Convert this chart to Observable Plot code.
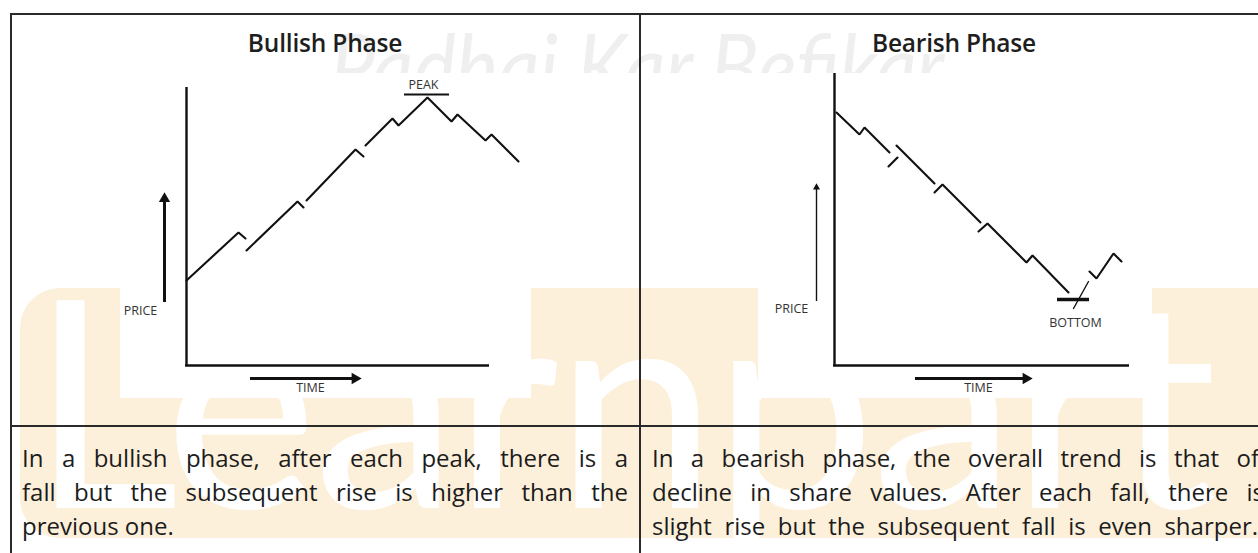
<!DOCTYPE html>
<html><head><meta charset="utf-8">
<script src="https://cdn.jsdelivr.net/npm/d3@7"></script>
<script src="https://cdn.jsdelivr.net/npm/@observablehq/plot@0.6"></script>
<style>
body{margin:0;width:1258px;height:553px;overflow:hidden;position:relative;background:#fff;font-family:"Open Sans",Lato,sans-serif;}
.abs{position:absolute}
.line{position:absolute;height:34px;line-height:34px;font-size:24px;font-weight:400;color:#1c1c1c;text-align:justify;text-align-last:justify;white-space:nowrap;font-family:"Open Sans",sans-serif}
.line.last{text-align-last:left}
.title{position:absolute;top:30px;width:400px;text-align:center;font-size:24.5px;line-height:25px;font-weight:600;color:#1e1e1e;font-family:"Open Sans",Lato,sans-serif;letter-spacing:-0.2px}
</style></head><body>
<div id="wm" class="abs" style="left:0;top:0;width:1258px;height:73px;overflow:hidden"></div>
<div class="abs" style="left:20px;top:288px;width:1300px;height:250px;background:#fdf0da;border-radius:40px"></div>
<div class="abs" style="left:30px;top:262px;width:1228px;height:276px;overflow:hidden"><div style="font:400 290px Lato,sans-serif;color:#fff;letter-spacing:-4px;line-height:276px;white-space:nowrap;margin-top:-4px">Learnpart</div></div>
<div class="abs" style="left:120px;top:73px;width:411px;height:325px;background:#fff"></div>
<div class="abs" style="left:758px;top:73px;width:394px;height:325px;background:#fff"></div>
<div class="abs" style="left:10px;top:13px;width:1248px;height:2px;background:#2a2a2a"></div>
<div class="abs" style="left:10px;top:13px;width:2px;height:540px;background:#2a2a2a"></div>
<div class="abs" style="left:639px;top:13px;width:2px;height:540px;background:#2a2a2a"></div>
<div class="abs" style="left:10px;top:425px;width:1248px;height:2px;background:#2a2a2a"></div>
<div class="title" style="left:125px">Bullish Phase</div>
<div class="title" style="left:754px">Bearish Phase</div>
<div id="bull" class="abs" style="left:110px;top:60px"></div>
<div id="bear" class="abs" style="left:740px;top:60px"></div>
<div class="line" style="left:22px;top:441px;width:606px">In a bullish phase, after each peak, there is a</div>
<div class="line" style="left:22px;top:475px;width:606px">fall but the subsequent rise is higher than the</div>
<div class="line last" style="left:22px;top:509px;width:606px">previous one.</div>
<div class="line" style="left:652px;top:441px;width:607px">In a bearish phase, the overall trend is that of</div>
<div class="line" style="left:652px;top:475px;width:612px">decline in share values. After each fall, there is</div>
<div class="line" style="left:652px;top:509px;width:606px">slight rise but the subsequent fall is even sharper.</div>
<script>
// ---- Bullish phase (time, price in drawing units; origin at the axes corner)
const bullTime  = [0, 52, 59,  60, 111, 117,  120, 169, 177,  179, 206, 212, 241, 265, 271, 299, 305, 332];
const bullPrice = [85, 133, 127,  115, 164, 158,  165, 216, 209,  220, 247, 240, 268, 244, 251, 225, 231, 204];
const bullLeg   = [1, 1, 1,  2, 2, 2,  3, 3, 3,  4, 4, 4, 4, 4, 4, 4, 4, 4];
const bullAxisTime  = [0, 303];
const bullAxisPrice = [0, 278];
const bullPriceArrow = [-22, 63, 173];   // time, from price, to price
const bullTimeArrow  = [-13, 64, 175];   // price, from time, to time
const bullPeakBar    = [271, 218, 263];  // price, from time, to time
const bullLabels = ["PRICE", "TIME", "PEAK"];
const bullLabelTime  = [-46, 124, 237];
const bullLabelPrice = [55, -22, 281];

// ---- Bearish phase
const bearTime  = [2, 25, 30, 55,  54, 63,  62, 100,  100, 108, 146,  144, 153, 192, 198, 234,  239, 254,  255, 262, 279, 287];
const bearPrice = [253, 231, 238, 213,  199, 208,  220, 182,  173, 181, 143,  134, 142, 103, 110, 73,  57, 84,  94, 87, 112, 104];
const bearLeg   = [1, 1, 1, 1,  2, 2,  3, 3,  4, 4, 4,  5, 5, 5, 5, 5,  6, 6,  7, 7, 7, 7];
const bearAxisTime  = [0, 295];
const bearAxisPrice = [0, 292];
const bearPriceArrow = [-18, 64, 182];
const bearTimeArrow  = [-13, 81, 198];
const bearBottomBar  = [66, 223, 255];
const bearLabels = ["PRICE", "TIME", "BOTTOM"];
const bearLabelTime  = [-43, 144, 241];
const bearLabelPrice = [57, -22, 43];

const watermarkText = "Padhai Kar Befikar";

function rows(t, p, g) { return t.map((d, i) => ({time: d, price: p[i], leg: g[i]})); }
function labels(l, t, p) { return l.map((d, i) => ({label: d, time: t[i], price: p[i]})); }

function phaseChart(o) {
  const data = rows(o.time, o.price, o.leg);
  const ink = "#111";
  const thin = data.filter(d => o.thinLeg != null && d.leg === o.thinLeg);
  const thick = data.filter(d => !(o.thinLeg != null && d.leg === o.thinLeg));
  const [pa, pa0, pa1] = o.priceArrow;
  const [ta, ta0, ta1] = o.timeArrow;
  const marks = [
    Plot.ruleX([0], {x: d => d, y1: -1, y2: o.axisPrice[1], stroke: ink, strokeWidth: 2.4}),
    Plot.ruleY([0], {y: d => d, x1: -1, x2: o.axisTime[1], stroke: ink, strokeWidth: 2.4}),
    Plot.line(thick, {x: "time", y: "price", z: "leg", stroke: ink, strokeWidth: 2.1, strokeLinejoin: "miter"}),
    Plot.ruleX([pa], {x: d => d, y1: pa0, y2: pa1 - o.upHead * 1.5, stroke: ink, strokeWidth: o.upWidth}),
    Plot.dot([pa], {x: d => d, y: pa1 - o.upHead * 1.5, r: o.upHead, symbol: "triangle", fill: ink, stroke: "none"}),
    Plot.ruleY([ta], {y: d => d, x1: ta0, x2: ta1 - 6, stroke: ink, strokeWidth: 3}),
    Plot.dot([ta], {y: d => d, x: ta1 - 6.5, r: 4.3, symbol: "triangle", rotate: 90, fill: ink, stroke: "none"}),
    Plot.ruleY([o.bar[0]], {y: d => d, x1: o.bar[1], x2: o.bar[2], stroke: ink, strokeWidth: o.barWidth}),
    Plot.text(labels(o.labels, o.labelTime, o.labelPrice), {x: "time", y: "price", text: "label", fontSize: 12.5, fill: "#333", fontFamily: "Open Sans"})
  ];
  if (thin.length) marks.push(Plot.line(thin, {x: "time", y: "price", z: "leg", stroke: ink, strokeWidth: 1.4}));
  return Plot.plot({
    width: o.width, height: 345, margin: 0,
    x: {domain: o.xDomain, range: [0, o.width], axis: null},
    y: {domain: [-40, 305], range: [345, 0], axis: null},
    style: {background: "transparent", overflow: "visible"},
    marks
  });
}

document.getElementById("bull").append(phaseChart({
  time: bullTime, price: bullPrice, leg: bullLeg, axisTime: bullAxisTime, axisPrice: bullAxisPrice,
  priceArrow: bullPriceArrow, timeArrow: bullTimeArrow, bar: bullPeakBar, barWidth: 2,
  labels: bullLabels, labelTime: bullLabelTime, labelPrice: bullLabelPrice,
  upHead: 4.2, upWidth: 3, width: 440, xDomain: [-76, 364]
}));
document.getElementById("bear").append(phaseChart({
  time: bearTime, price: bearPrice, leg: bearLeg, axisTime: bearAxisTime, axisPrice: bearAxisPrice,
  priceArrow: bearPriceArrow, timeArrow: bearTimeArrow, bar: bearBottomBar, barWidth: 3.5, thinLeg: 6,
  labels: bearLabels, labelTime: bearLabelTime, labelPrice: bearLabelPrice,
  upHead: 2.6, upWidth: 1.4, width: 420, xDomain: [-94, 326]
}));

// squeeze a line that is wider than its cell, as in the reference
document.querySelectorAll(".line").forEach(el => {
  const box = el.getBoundingClientRect().width;
  const r = document.createRange(); r.selectNodeContents(el);
  const w = r.getBoundingClientRect().width;
  if (w > box) el.style.letterSpacing = (-(w - box + 2) / el.textContent.length) + "px";
});

// faint watermark at the top (cut where the pictures begin)
const ns = "http://www.w3.org/2000/svg";
const wsvg = document.createElementNS(ns, "svg");
wsvg.setAttribute("width", 1258); wsvg.setAttribute("height", 73);
const wt = document.createElementNS(ns, "text");
wt.setAttribute("x", 330); wt.setAttribute("y", 100);
wt.setAttribute("textLength", 614); wt.setAttribute("lengthAdjust", "spacingAndGlyphs");
wt.setAttribute("style", "font: italic 400 92px Lato, sans-serif; fill:#efefef");
wt.textContent = watermarkText;
wsvg.append(wt);
document.getElementById("wm").append(wsvg);
</script>
</body></html>
